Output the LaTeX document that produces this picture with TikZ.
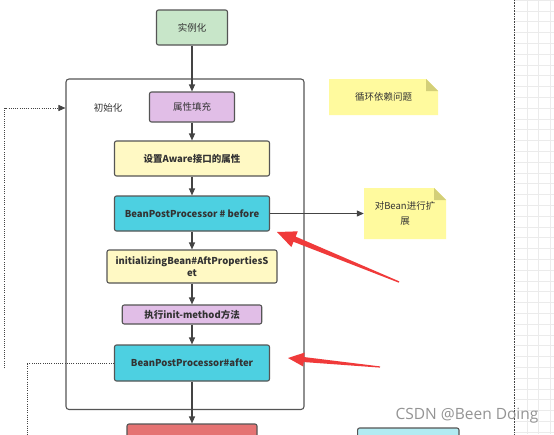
\documentclass[tikz,border=0pt]{standalone}
\usepackage{fontspec}
\setmainfont{Noto Sans CJK SC}
\newfontfamily\wmfont{Open Sans}
\usetikzlibrary{arrows.meta,calc}
\definecolor{edgec}{HTML}{555555}
\definecolor{linec}{HTML}{444444}
\definecolor{txt}{HTML}{333333}
\definecolor{cgreen}{HTML}{C8E6C9}
\definecolor{cpurple}{HTML}{E1BEE7}
\definecolor{cyellow}{HTML}{FFF9C4}
\definecolor{ccyan}{HTML}{4DD0E1}
\definecolor{cred}{HTML}{E57373}
\definecolor{clcyan}{HTML}{B2EBF2}
\definecolor{notefill}{HTML}{FFFA9E}
\definecolor{foldfill}{HTML}{D3CF78}
\definecolor{redarr}{HTML}{F03A3A}
\definecolor{gridc}{HTML}{EBEBEB}
\begin{document}
\begin{tikzpicture}[x=1pt,y=-1pt,
  box/.style={draw=edgec, line width=1.1pt, rounded corners=2pt, inner sep=0pt, align=center, text=txt, font=\fontsize{9.5}{12}\selectfont},
  boldbox/.style={box, font=\fontsize{9.5}{12}\selectfont\bfseries},
  flow/.style={draw=linec, line width=1.1pt, -{Triangle[length=7pt,width=6pt]}},
  dotline/.style={draw=linec, line width=0.9pt, dash pattern=on 0.9pt off 1.3pt},
  notebox/.style={inner sep=0pt, align=center, text=txt, font=\fontsize{9.5}{15}\selectfont,
    path picture={
      \fill[notefill] (path picture bounding box.south west) -- (path picture bounding box.north west)
        -- ([xshift=-12pt]path picture bounding box.north east) -- ([yshift=-12pt]path picture bounding box.north east)
        -- (path picture bounding box.south east) -- cycle;
      \fill[foldfill] ([xshift=-12pt]path picture bounding box.north east) -- ([xshift=-12pt,yshift=-12pt]path picture bounding box.north east)
        -- ([yshift=-12pt]path picture bounding box.north east) -- cycle;}},
  gridline/.style={draw=gridc, line width=0.6pt}
]
\useasboundingbox (0,0) rectangle (554,434);
\clip (0,0) rectangle (554,434);
\fill[white] (0,0) rectangle (554,434);

% canvas grid beyond page break
\foreach \i in {0,...,41} \draw[gridline] (515,\i*10.8) -- (554,\i*10.8);
\foreach \xx in {527,538.5,550} \draw[gridline] (\xx,0) -- (\xx,434);
\draw[draw=linec, line width=0.8pt, dash pattern=on 0.8pt off 0.8pt] (514.7,0) -- (514.7,434);

% container
\node[draw=edgec, line width=1.1pt, rounded corners=3pt, minimum width=238pt, minimum height=330.5pt, inner sep=0pt] (cont) at (185,244.25) {};
\node[text=txt, font=\fontsize{9.5}{12}\selectfont] (lbl) at (108,108) {初始化};

% flow nodes
\node[box, fill=cgreen, minimum width=71pt, minimum height=35pt] (inst) at (192,27.5) {实例化};
\node[box, fill=cpurple, minimum width=85pt, minimum height=30pt] (fillp) at (192,107) {属性填充};
\node[boldbox, fill=cyellow, minimum width=155pt, minimum height=35pt] (aware) at (192,158.5) {设置Aware接口的属性};
\node[boldbox, fill=ccyan, minimum width=155pt, minimum height=35pt] (before) at (192,213.5) {BeanPostProcessor \# before};
\node[boldbox, fill=cyellow, minimum width=170pt, minimum height=33pt] (initb) at (192,266.5) {initializingBean\#AftPropertiesS\\et};
\node[boldbox, fill=cpurple, minimum width=139.5pt, minimum height=19pt] (initm) at (192,314.5) {执行init-method方法};
\node[boldbox, fill=ccyan, minimum width=155pt, minimum height=36pt] (after) at (192,363) {BeanPostProcessor\#after};
\node[box, fill=cred, minimum width=130pt, minimum height=30pt] (redbox) at (192,439) {};
\node[box, fill=clcyan, minimum width=101.4pt, minimum height=30pt] (cybox) at (408.3,443) {};

% notes
\node[notebox, minimum width=109pt, minimum height=36pt] (note1) at (383.5,97) {循环依赖问题};
\node[notebox, minimum width=82pt, minimum height=51pt] (note2) at (405,213.5) {对Bean进行扩\\展};

% connectors
\draw[flow] (inst) -- (fillp);
\draw[flow] (fillp) -- (aware);
\draw[flow] (aware) -- (before);
\draw[flow] (before) -- (initb);
\draw[flow] (initb) -- (initm);
\draw[flow] (initm) -- (after);
\draw[flow] (after) -- (redbox);
\draw[flow] (before.east) -- (note2.west);

% dotted connectors
\coordinate (dl1) at (4.7,368);
\coordinate (dl2) at (4.7,108);
\draw[dotline, -{Triangle[length=7pt,width=6pt]}] (dl1) -- (dl2) -- (cont.west |- dl2);
\coordinate (dl3) at (27,440);
\draw[dotline] (after.west) -| (dl3);

% red annotation arrows
\coordinate (r1tail) at (399,282);
\coordinate (r1tip) at (277,232);
\coordinate (r1b) at ($(r1tip)!19pt!(r1tail)$);
\fill[redarr] (r1tip) -- ($(r1b)!8.5pt!90:(r1tip)$) -- ($(r1b)!2.8pt!90:(r1tip)$) -- ($(r1tail)!0.7pt!90:(r1tip)$)
  -- ($(r1tail)!0.7pt!-90:(r1tip)$) -- ($(r1b)!2.8pt!-90:(r1tip)$) -- ($(r1b)!8.5pt!-90:(r1tip)$) -- cycle;
\coordinate (r2tail) at (380,367);
\coordinate (r2tip) at (288,358);
\coordinate (r2b) at ($(r2tip)!16pt!(r2tail)$);
\fill[redarr] (r2tip) -- ($(r2b)!7pt!90:(r2tip)$) -- ($(r2b)!2.5pt!90:(r2tip)$) -- ($(r2tail)!0.6pt!90:(r2tip)$)
  -- ($(r2tail)!0.6pt!-90:(r2tip)$) -- ($(r2b)!2.5pt!-90:(r2tip)$) -- ($(r2b)!7pt!-90:(r2tip)$) -- cycle;

% watermark
\node[font=\wmfont\fontsize{15.5}{18}\selectfont, text=black!42] (wm) at (467,416) {CSDN @Been Doing};
\end{tikzpicture}
\end{document}
